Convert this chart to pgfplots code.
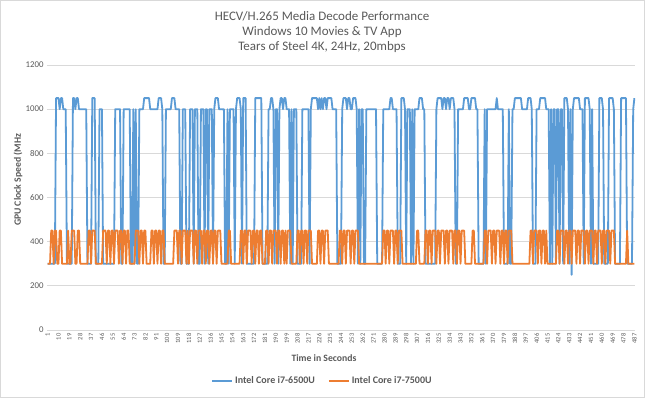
\documentclass[border=0pt]{standalone}
\usepackage{pgfplots}
\pgfplotsset{compat=1.18}
\usepackage{fontspec}
\setmainfont{Carlito}
\definecolor{cblue}{HTML}{5B9BD5}
\definecolor{corange}{HTML}{ED7D31}
\definecolor{txt}{HTML}{595959}
\definecolor{gridc}{HTML}{D9D9D9}
\begin{document}
\begin{tikzpicture}[x=1pt,y=1pt]
\path[use as bounding box] (-47,-68) rectangle (598,330);
\draw[gridc, line width=0.8pt] (-46.6,-67.6) rectangle (597.6,329.6);
\begin{axis}[
  at={(0,0)}, anchor=south west,
  scale only axis, width=588pt, height=265pt,
  xmin=0.5, xmax=487.5, ymin=0, ymax=1200,
  xtick={1,10,...,487}, ytick={0,200,...,1200},
  /pgf/number format/assume math mode=true,
  /pgf/number format/1000 sep={},
  x tick label style={rotate=90, anchor=east, font=\fontsize{6.5}{7}\selectfont, text=txt},
  y tick label style={font=\fontsize{8.8}{10}\selectfont, text=txt},
  major tick length=0pt,
  ymajorgrids, grid style={gridc, line width=0.8pt},
  axis x line*=bottom, axis y line*=left,
  x axis line style={gridc, line width=0.8pt, -},
  y axis line style={draw=none},
  legend columns=2,
  legend style={at={(0.4685,-0.192)}, anchor=center, draw=none, fill=none,
    font=\bfseries\fontsize{10}{11}\selectfont, text=txt,
    /tikz/every even column/.append style={column sep=11pt}},
  legend image code/.code={\draw[#1] (0pt,0pt) -- (20pt,0pt);},
]
\addplot[cblue, line width=1.8pt, line join=round] coordinates {
(1,300)(7,300)(8,1050)(10,1050)(11,1000)(12,1050)(13,1050)(14,1000)(16,1000)(17,300)(21,300)(22,1050)(23,1050)(24,1000)(25,1050)(26,1050)(27,1000)(33,1000)(34,300)(37,300)(38,1050)(40,1050)(41,300)(43,300)(44,1000)(46,1000)(47,300)(56,300)(57,1000)(61,1000)(62,300)(63,300)(64,1000)(69,1000)(70,300)(71,300)(72,1000)(73,300)(74,1000)(75,300)(76,300)(77,1000)(80,1000)(81,1050)(85,1050)(86,1000)(92,1000)(93,1050)(95,1050)(96,1000)(97,300)(98,300)(99,1000)(103,1000)(104,1050)(106,1050)(107,1000)(110,1000)(111,300)(112,300)(113,1000)(115,1000)(116,300)(118,300)(119,1000)(121,1000)(122,300)(123,1000)(125,1000)(126,300)(127,300)(128,1000)(130,1000)(131,300)(132,1000)(133,1000)(134,300)(135,1000)(137,1000)(138,300)(139,1000)(140,1050)(142,1050)(143,1000)(147,1000)(148,300)(149,300)(150,1000)(151,300)(152,1000)(155,1000)(156,300)(157,1000)(158,1050)(160,1050)(161,1000)(162,300)(163,1050)(165,1050)(166,300)(172,300)(173,1050)(178,1050)(179,300)(183,300)(184,1000)(185,1000)(186,1050)(187,1050)(188,1000)(189,300)(190,1000)(191,1000)(192,300)(193,1000)(194,1050)(195,1050)(196,1000)(197,1050)(198,1050)(199,1000)(201,1000)(202,300)(203,1000)(204,300)(205,1000)(207,1000)(208,300)(211,300)(212,1000)(217,1000)(218,300)(219,1000)(220,1050)(224,1050)(225,1000)(226,1050)(227,1000)(228,1050)(229,1000)(230,1050)(231,1050)(232,1000)(233,1050)(236,1050)(237,1000)(240,1000)(241,300)(244,300)(245,1000)(246,1050)(248,1050)(249,1000)(250,1050)(251,1050)(252,1000)(253,1000)(254,1050)(256,1050)(257,1000)(258,300)(259,1000)(260,300)(261,1000)(262,1000)(263,300)(264,300)(265,1000)(273,1000)(274,300)(278,300)(279,1000)(284,1000)(285,1050)(286,1050)(287,1000)(290,1000)(291,300)(293,300)(294,1050)(296,1050)(297,1000)(298,300)(299,1000)(301,1000)(302,300)(303,1000)(304,300)(305,1000)(308,1000)(309,1050)(311,1050)(312,1000)(313,1000)(314,300)(322,300)(323,1000)(324,1050)(327,1050)(328,1000)(329,1050)(330,1050)(331,1000)(332,1050)(333,1050)(334,1000)(335,1050)(337,1050)(338,1000)(339,300)(340,300)(341,1000)(345,1000)(346,1050)(349,1050)(350,1000)(351,1000)(352,1050)(355,1050)(356,1000)(357,1000)(358,300)(362,300)(363,1000)(364,300)(365,1000)(372,1000)(373,1050)(374,1000)(378,1000)(379,300)(382,300)(383,1000)(384,300)(385,300)(386,1000)(387,1000)(388,1050)(393,1050)(394,1000)(398,1000)(399,1050)(401,1050)(402,1000)(403,300)(405,300)(406,1000)(408,1000)(409,1050)(413,1050)(414,1000)(416,1000)(417,300)(418,1000)(419,300)(420,1000)(421,1000)(422,300)(423,1000)(424,1000)(425,300)(426,1000)(427,1000)(428,300)(429,1050)(431,1050)(432,1000)(433,300)(434,1000)(435,250)(436,1000)(437,1050)(441,1050)(442,1000)(444,1000)(445,300)(446,1050)(449,1050)(450,1000)(451,300)(452,1000)(453,300)(457,300)(458,1050)(460,1050)(461,1000)(462,300)(465,300)(466,1050)(469,1050)(470,1000)(471,300)(475,300)(476,1050)(480,1050)(481,300)(485,300)(486,1000)(487,1050)
};
\addlegendentry{Intel Core i7-6500U}
\addplot[corange, line width=1.8pt, line join=round] coordinates {
(1,300)(3,300)(4,450)(5,450)(6,300)(7,450)(8,450)(9,300)(10,300)(11,450)(12,450)(13,300)(17,300)(18,450)(19,300)(20,300)(21,450)(23,450)(24,300)(25,300)(26,450)(27,450)(28,300)(34,300)(35,450)(36,450)(37,300)(38,450)(40,450)(41,300)(46,300)(47,450)(49,450)(50,300)(51,450)(52,450)(53,300)(54,450)(55,450)(56,300)(57,450)(59,450)(60,300)(61,450)(62,450)(63,300)(64,450)(65,450)(66,300)(67,450)(68,450)(69,300)(73,300)(74,450)(76,450)(77,300)(78,450)(79,450)(80,300)(81,450)(82,450)(83,300)(86,300)(87,450)(88,450)(89,300)(90,450)(91,450)(92,300)(93,450)(94,450)(95,300)(96,450)(97,450)(98,300)(105,300)(106,450)(108,450)(109,300)(110,450)(111,450)(112,300)(113,450)(115,450)(116,300)(117,450)(118,300)(119,450)(121,450)(122,300)(123,450)(124,450)(125,300)(126,450)(128,450)(129,300)(130,450)(131,450)(132,300)(133,450)(134,450)(135,300)(136,450)(137,450)(138,300)(139,450)(140,450)(141,300)(142,450)(144,450)(145,300)(150,300)(151,450)(152,450)(153,300)(160,300)(161,450)(162,450)(163,300)(164,450)(165,450)(166,300)(167,450)(169,450)(170,300)(171,450)(172,450)(173,300)(174,450)(175,450)(176,300)(177,450)(178,450)(179,300)(181,300)(182,450)(183,450)(184,300)(185,450)(186,450)(187,300)(188,450)(190,450)(191,300)(192,450)(193,450)(194,300)(195,450)(196,450)(197,300)(198,450)(199,300)(200,450)(202,450)(203,300)(207,300)(208,450)(209,450)(210,300)(211,450)(212,450)(213,300)(214,450)(215,450)(216,300)(217,450)(219,450)(220,300)(224,300)(225,450)(226,450)(227,300)(228,450)(229,450)(230,300)(231,450)(233,450)(234,300)(242,300)(243,450)(244,450)(245,300)(246,450)(247,450)(248,300)(249,450)(251,450)(252,300)(253,450)(254,450)(255,300)(256,450)(258,450)(259,300)(278,300)(279,450)(280,450)(281,300)(282,450)(283,450)(284,300)(285,450)(287,450)(288,300)(289,450)(290,450)(291,300)(292,450)(294,450)(295,300)(306,300)(307,450)(308,450)(309,300)(313,300)(314,450)(315,450)(316,300)(317,450)(318,450)(319,300)(320,450)(322,450)(323,300)(324,450)(325,450)(326,300)(327,450)(329,450)(330,300)(331,450)(332,450)(333,300)(334,450)(336,450)(337,300)(338,450)(339,450)(340,300)(341,450)(342,450)(343,300)(344,450)(346,450)(347,300)(352,300)(353,450)(354,450)(355,300)(362,300)(363,450)(364,450)(365,300)(366,450)(368,450)(369,300)(370,450)(371,450)(372,300)(373,450)(375,450)(376,300)(377,450)(378,450)(379,300)(380,450)(381,450)(382,300)(383,450)(385,450)(386,300)(400,300)(401,450)(402,450)(403,300)(404,450)(406,450)(407,300)(408,450)(409,450)(410,300)(411,450)(412,450)(413,300)(414,450)(415,300)(422,300)(423,450)(424,450)(425,300)(426,450)(428,450)(429,300)(430,450)(431,450)(432,300)(433,450)(434,450)(435,300)(436,450)(438,450)(439,300)(440,450)(441,450)(442,300)(443,450)(445,450)(446,300)(447,450)(448,450)(449,300)(450,450)(452,450)(453,300)(454,450)(455,450)(456,300)(457,450)(459,450)(460,300)(461,450)(462,450)(463,300)(464,450)(466,450)(467,300)(468,450)(470,450)(471,300)(480,300)(481,450)(482,300)(487,300)
};
\addlegendentry{Intel Core i7-7500U}
\end{axis}
\node[text=txt, font=\fontsize{13}{15}\selectfont, align=center] at (275,298) {HECV/H.265 Media Decode Performance\\Windows 10 Movies \& TV App\\Tears of Steel 4K, 24Hz, 20mbps};
\node[text=txt, font=\bfseries\fontsize{9.7}{11}\selectfont] at (277,-28) {Time in Seconds};
\node[text=txt, font=\bfseries\fontsize{9.7}{11}\selectfont, rotate=90] at (-29,150) {GPU Clock Speed (MHz};
\end{tikzpicture}
\end{document}
